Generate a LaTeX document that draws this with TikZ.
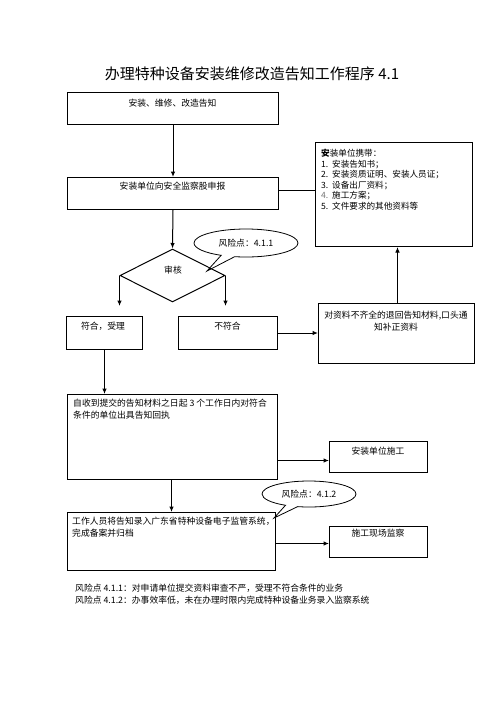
\documentclass[tikz,border=0pt]{standalone}
\usepackage{fontspec}
\setmainfont{Noto Sans CJK SC}
\usetikzlibrary{shapes.geometric,shapes.callouts,arrows.meta}
\tikzset{
  box/.style={draw, line width=1pt, inner sep=0pt, anchor=north west},
  txt/.style={inner sep=0pt, font=\fontsize{8.8}{11.5}\selectfont},
  arr/.style={line width=1pt, -{Latex[length=5.5pt,width=4.5pt]}},
  conn/.style={line width=1pt},
  risk/.style={ellipse callout, draw, line width=0.8pt, inner sep=0pt, font=\fontsize{8.8}{10}\selectfont, callout pointer arc=16}
}
\begin{document}
\begin{tikzpicture}[x=1pt,y=-1pt]
\useasboundingbox (0,0) rectangle (496,702);
% title
\node[inner sep=0pt, font=\fontsize{15}{17}\selectfont] (title) at (252,74) {办理特种设备安装维修改造告知工作程序 4.1};
% boxes
\node[box, minimum width=211pt, minimum height=32pt] (b1) at (67,92) {};
\node[txt] (t1) at (172.5,103) {安装、维修、改造告知};
\node[box, minimum width=211pt, minimum height=32pt] (b2) at (67,177) {};
\node[txt] (t2) at (172.5,186) {安装单位向安全监察股申报};
\node[box, minimum width=157pt, minimum height=104pt] (carry) at (315,142) {};
\node[txt, anchor=north west, align=left, font=\fontsize{8.6}{10.5}\selectfont] (tcarry) at (321,149)
  {{\bfseries 安}装单位携带：\\
   \makebox[11pt][l]{1.}安装告知书；\\
   \makebox[11pt][l]{2.}安装资质证明、安装人员证；\\
   \makebox[11pt][l]{3.}设备出厂资料；\\
   \makebox[11pt][l]{\color{black!55}4.}施工方案；\\
   \makebox[11pt][l]{5.}文件要求的其他资料等};
\node[draw, diamond, line width=1pt, inner sep=0pt, minimum width=105pt, minimum height=53pt] (dia) at (172.5,275.5) {};
\node[txt] (tdia) at (173,270) {审核};
\node[risk, minimum width=104pt, minimum height=28pt, callout absolute pointer={(207,271)}] (r1) at (246,243) {风险点：4.1.1};
\node[box, minimum width=76pt, minimum height=33pt] (fuhe) at (66,316) {};
\node[txt] (tfuhe) at (103,326) {符合，受理};
\node[box, minimum width=99pt, minimum height=33pt] (bufu) at (178,316) {};
\node[txt] (tbufu) at (227.5,326) {不符合};
\node[box, minimum width=156pt, minimum height=60pt] (ret) at (318,303) {};
\node[txt, align=center] (tret) at (396,321) {对资料不齐全的退回告知材料,口头通\\知补正资料};
\node[box, minimum width=210pt, minimum height=85pt] (b3) at (67,394) {};
\node[txt, anchor=north west, align=left] (t3) at (73,399) {自收到提交的告知材料之日起 3 个工作日内对符合\\条件的单位出具告知回执};
\node[box, minimum width=98pt, minimum height=31pt] (sg) at (329,441) {};
\node[txt] (tsg) at (378,451) {安装单位施工};
\node[risk, minimum width=94pt, minimum height=26pt, callout absolute pointer={(274,518)}] (r2) at (309,494) {风险点：4.1.2};
\node[box, minimum width=208pt, minimum height=58pt] (b4) at (67,512) {};
\node[txt, anchor=north west, align=left] (t4) at (72,517) {工作人员将告知录入广东省特种设备电子监管系统，\\完成备案并归档};
\node[box, minimum width=98pt, minimum height=31pt] (jc) at (329,526) {};
\node[txt] (tjc) at (378,533) {施工现场监察};
% footer
\node[txt, anchor=west] (f1) at (75,588) {风险点 4.1.1：对申请单位提交资料审查不严，受理不符合条件的业务};
\node[txt, anchor=west] (f2) at (75,600) {风险点 4.1.2：办事效率低，未在办理时限内完成特种设备业务录入监察系统};
% connectors
\draw[arr] (b1.south) -- (b2.north);
\draw[conn] ([yshift=3pt]b2.east) -- ([yshift=3pt]b2.east -| carry.west);
\draw[arr] (b2.south) -- (dia.north);
\draw[arr, shorten >=10pt] (dia.west) -- (dia.west |- fuhe.north);
\draw[arr, shorten >=10pt] (dia.east) -- (dia.east |- bufu.north);
\draw[arr] (bufu.east) -- (bufu.east -| ret.west);
\draw[arr] ([xshift=1pt]ret.north) -- ([xshift=1pt]ret.north |- carry.south);
\draw[arr] (fuhe.south) -- (fuhe.south |- b3.north);
\draw[arr] ([yshift=-23.5pt]b3.east) -- ([yshift=-23.5pt]b3.east -| sg.west);
\draw[arr] ([xshift=-1pt]b3.south) -- ([xshift=-1pt]b3.south |- b4.north);
\draw[arr] ([yshift=-2pt]b4.east) -- ([yshift=-2pt]b4.east -| jc.west);
\end{tikzpicture}
\end{document}
